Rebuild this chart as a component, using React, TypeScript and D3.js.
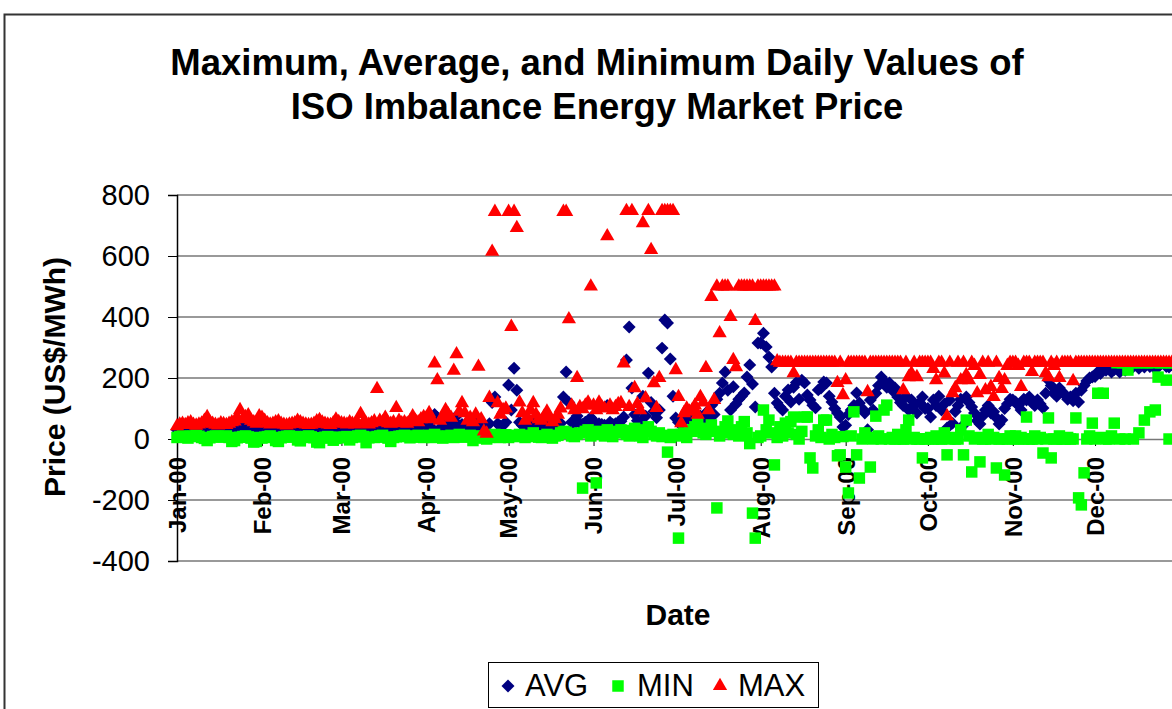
import React, { useEffect, useRef } from 'react';
import * as d3 from 'd3';

const startDate = new Date(2000, 0, 1);
const endDate = new Date(2001, 0, 1);
const yTicks = [-400, -200, 0, 200, 400, 600, 800];
const titleLines = ['Maximum, Average, and Minimum Daily Values of', 'ISO Imbalance Energy Market Price'];
const seriesNames = ['AVG', 'MIN', 'MAX'];

// daily values Jan 1 .. Dec 31 2000, one row per month (US$/MWh)
const avgValues = [
  30, 32, 33, 31, 34, 35, 30, 29, 31, 33, 36, 38, 34, 32, 30, 29, 33, 32, 30, 31, 34, 35, 38, 42, 36, 37, 38, 35, 33, 31, 36,
  35, 33, 31, 30, 31, 32, 34, 31, 30, 29, 30, 31, 32, 35, 33, 31, 30, 29, 29, 31, 34, 36, 33, 31, 30, 29, 32, 36, 33,
  32, 31, 30, 33, 31, 30, 32, 38, 33, 31, 30, 32, 34, 48, 35, 33, 36, 32, 31, 33, 40, 35, 33, 34, 32, 35, 38, 36, 34, 37, 38,
  34, 40, 36, 80, 70, 35, 38, 45, 40, 36, 60, 75, 42, 48, 40, 36, 38, 34, 40, 65, 38, 22, 15, 50, 120, 138, 50, 42, 45, 55,
  177, 95, 232, 160, 55, 45, 38, 40, 50, 58, 45, 40, 38, 42, 48, 40, 35, 38, 45, 52, 138, 220, 120, 55, 50, 75, 52, 48, 55, 60, 70,
  60, 45, 50, 48, 45, 110, 55, 48, 50, 55, 58, 72, 259, 367, 167, 80, 60, 55, 140, 75, 216, 120, 90, 70, 95, 298, 390, 380, 262, 140,
  69, 55, 45, 60, 72, 65, 58, 70, 62, 75, 68, 85, 60, 110, 80, 130, 150, 184, 220, 160, 95, 171, 115, 130, 140, 151, 203, 243, 180, 105, 315,
  315, 347, 302, 269, 236, 150, 118, 105, 95, 140, 161, 121, 170, 185, 130, 193, 184, 144, 128, 111, 102, 161, 167, 187, 184, 140, 121, 100, 85, 72, 39,
  45, 80, 95, 110, 151, 118, 100, 85, 30, 128, 95, 150, 175, 203, 190, 170, 184, 160, 167, 138, 120, 110, 140, 95, 128, 110, 85, 120, 138, 100,
  100, 72, 128, 110, 140, 95, 115, 36, 128, 52, 90, 110, 130, 46, 138, 120, 105, 85, 60, 49, 75, 95, 110, 85, 89, 70, 49, 62, 100, 115, 130,
  128, 121, 110, 95, 130, 128, 138, 120, 110, 128, 115, 102, 150, 193, 175, 150, 140, 167, 155, 145, 130, 138, 125, 150, 121, 160, 175, 190, 200, 203,
  205, 220, 215, 236, 225, 230, 220, 228, 250, 220, 250, 225, 230, 250, 238, 250, 232, 250, 236, 250, 238, 250, 230, 236, 250, 250, 238, 236, 250, 250, 250,
];

const minValues = [
  5, 8, 10, 6, 3, 8, 10, 12, 9, 5, 2, -5, 4, 8, 10, 9, 6, 8, 10, 5, -8, -5, 4, 6, 8, 10, 7, 3, -10, -8, 5,
  3, 6, 8, 10, 5, -5, -8, 4, 7, 9, 10, 6, 8, -3, -6, 5, 8, 10, 7, 4, -10, -12, 3, 6, 8, 5, -4, 2, 6,
  4, 6, 8, -3, 5, 7, 10, 12, 8, -12, 4, 6, 5, 8, 10, 12, 6, 3, -8, 5, 7, 9, 10, 12, 8, 4, 6, 10, 12, 8, 5,
  8, 12, 5, 15, 10, 6, 3, 8, 10, 12, 5, 10, 15, 8, 6, 10, 12, -5, 5, 8, 10, 3, 0, 5, 12, 15, 8, 5, 10, 14,
  5, 10, 8, 12, 15, 10, 5, 8, 12, 20, 10, 6, 5, 10, 15, 8, 3, 10, 12, 20, 25, 22, 18, 10, 8, 15, 20, -161, 25, 30, 10,
  20, -144, 25, 15, 10, 30, 12, 8, 20, 25, 30, 28, 15, 10, 22, 35, 18, 10, 5, 30, 40, 25, 15, 10, 20, 8, 12, -43, 5, 15,
  10, -325, 15, 20, 5, 30, 25, 40, 52, 35, 20, 15, 30, 46, 25, -226, 10, 20, 40, 59, 30, 15, 25, 10, 40, 57, 20, -15, -243, -325, 5,
  10, 95, 30, 62, 20, -85, 5, 40, 10, 52, 20, 57, 72, 15, 0, 25, 72, 72, -62, -95, 10, 30, 5, 62, 62, 0, 15, 5, -55, -52, 8,
  -92, -177, 10, 89, -52, -128, 0, 20, 5, -92, 0, 75, 10, 0, 95, 111, 0, 5, 0, 15, 0, 0, 30, 62, 0, 5, 0, 0, -62, 0,
  0, 5, 0, 10, 0, 0, 20, -52, 0, 5, 0, 0, 30, -52, 62, 10, -108, 0, 5, -75, 0, 0, 15, 0, 5, -95, 0, 0, -118, 0, 10,
  0, 10, 0, 5, 0, 72, 0, 0, 10, 0, 5, -46, 0, 69, -62, 0, 0, 10, 0, 0, 5, 0, 0, 69, -193, -216, -111, 0, 10, 52,
  0, 150, 5, 150, 0, 0, 10, 52, 250, 0, 250, 0, 226, 250, 0, 250, 20, 250, 62, 250, 89, 250, 95, 203, 250, 250, 193, 0, 250, 250, 250,
];

const maxValues = [
  42, 48, 50, 46, 52, 55, 47, 44, 48, 51, 60, 72, 55, 50, 47, 45, 52, 49, 46, 50, 55, 58, 70, 95, 65, 72, 78, 60, 55, 50, 75,
  70, 60, 52, 48, 50, 55, 58, 50, 47, 45, 48, 50, 52, 60, 55, 50, 48, 46, 47, 50, 58, 62, 54, 50, 48, 46, 52, 64, 56,
  52, 50, 48, 55, 50, 48, 52, 82, 55, 50, 48, 52, 58, 164, 60, 55, 70, 52, 50, 55, 102, 60, 52, 55, 50, 58, 75, 60, 55, 65, 72,
  70, 85, 65, 248, 193, 60, 75, 95, 80, 70, 224, 278, 90, 118, 85, 60, 70, 55, 80, 237, 65, 25, 18, 135, 614, 745, 118, 80, 95, 100,
  745, 368, 745, 692, 120, 85, 60, 70, 95, 118, 80, 65, 60, 75, 90, 70, 55, 65, 80, 100, 745, 745, 393, 110, 95, 200, 105, 98, 110, 120, 500,
  110, 95, 120, 105, 100, 665, 110, 95, 105, 115, 118, 248, 748, 105, 748, 167, 115, 95, 708, 134, 748, 620, 183, 102, 200, 748, 748, 748, 748, 748,
  226, 138, 52, 85, 100, 90, 95, 110, 80, 138, 120, 233, 95, 466, 128, 500, 347, 500, 500, 500, 400, 259, 236, 500, 500, 500, 500, 500, 500, 387, 500,
  500, 500, 500, 500, 500, 500, 255, 250, 250, 250, 250, 250, 216, 250, 250, 250, 250, 250, 250, 250, 250, 250, 250, 250, 250, 250, 250, 250, 184, 250, 144,
  193, 250, 250, 250, 250, 250, 250, 250, 154, 250, 250, 250, 250, 250, 250, 250, 250, 250, 250, 250, 250, 160, 250, 203, 216, 250, 203, 250, 250, 250,
  250, 250, 230, 193, 250, 250, 215, 75, 250, 150, 167, 250, 193, 250, 210, 193, 250, 240, 150, 210, 250, 160, 250, 171, 138, 250, 200, 164, 193, 240, 250,
  250, 250, 240, 171, 250, 250, 250, 220, 250, 250, 250, 250, 216, 203, 250, 240, 250, 200, 250, 250, 250, 250, 190, 250, 250, 250, 250, 250, 250, 250,
  250, 250, 250, 250, 250, 250, 250, 250, 250, 250, 250, 250, 250, 250, 250, 250, 250, 250, 250, 250, 250, 250, 250, 250, 250, 250, 250, 250, 250, 250, 250,
];

const colors = { AVG: '#000080', MIN: '#00ff00', MAX: '#ff0000' };

const App = () => {
  const svgRef = useRef(null);

  useEffect(() => {
    const svg = d3.select(svgRef.current);
    svg.selectAll('*').remove();
    const font = '"Liberation Sans", Arial, Helvetica, sans-serif';

    const x = d3.scaleTime().domain([startDate, endDate]).range([177, 1180]);
    const y = d3.scaleLinear().domain([-400, 800]).range([561, 195]);

    // chart frame
    svg.append('rect')
      .attr('x', 4.5).attr('y', 14.5)
      .attr('width', 1220).attr('height', 720)
      .attr('fill', '#fff')
      .attr('stroke', '#333')
      .attr('stroke-width', 2);

    // title
    svg.append('g').selectAll('text')
      .data(titleLines)
      .enter()
      .append('text')
      .attr('x', 597)
      .attr('y', (d, i) => 75 + i * 44)
      .attr('text-anchor', 'middle')
      .style('font-family', font)
      .style('font-size', '36.5px')
      .style('font-weight', 'bold')
      .text(d => d);

    // grid lines
    svg.append('g').selectAll('line')
      .data(yTicks.filter(t => t !== 0))
      .enter()
      .append('line')
      .attr('x1', 177).attr('x2', 1180)
      .attr('y1', d => y(d)).attr('y2', d => y(d))
      .attr('stroke', '#777')
      .attr('stroke-width', 1.5);

    // y axis
    const yAxis = svg.append('g')
      .attr('transform', 'translate(177,0)')
      .call(d3.axisLeft(y).tickValues(yTicks).tickFormat(d => String(d)).tickSize(9).tickPadding(18));
    yAxis.select('.domain').attr('stroke', '#000').attr('stroke-width', 1.5);
    yAxis.selectAll('.tick line').attr('stroke', '#000');
    yAxis.selectAll('text')
      .style('font-family', font)
      .style('font-size', '29px')
      .style('fill', '#000');

    // x axis at zero
    const months = d3.timeMonth.range(startDate, new Date(2000, 11, 2));
    const xAxis = svg.append('g')
      .attr('transform', `translate(0,${y(0)})`)
      .call(d3.axisBottom(x).tickValues(months).tickFormat(d3.timeFormat('%b-%y')).tickSize(7).tickSizeOuter(0));
    xAxis.select('.domain').attr('stroke', '#777').attr('stroke-width', 1.5);
    xAxis.selectAll('.tick line').attr('stroke', '#000');
    xAxis.selectAll('text')
      .attr('transform', 'rotate(-90)')
      .attr('x', -18)
      .attr('y', 0)
      .attr('dy', '0.35em')
      .style('text-anchor', 'end')
      .style('font-family', font)
      .style('font-size', '24px')
      .style('font-weight', 'bold')
      .style('fill', '#000');

    // axis titles
    svg.append('text')
      .attr('transform', 'translate(65,377) rotate(-90)')
      .attr('text-anchor', 'middle')
      .style('font-family', font)
      .style('font-size', '30px')
      .style('font-weight', 'bold')
      .text('Price (US$/MWh)');

    svg.append('text')
      .attr('x', 678).attr('y', 625)
      .attr('text-anchor', 'middle')
      .style('font-family', font)
      .style('font-size', '30px')
      .style('font-weight', 'bold')
      .text('Date');

    // markers
    const symbols = {
      AVG: d3.symbol().type(d3.symbolSquare).size(84)(),
      MIN: d3.symbol().type(d3.symbolSquare).size(132)(),
      MAX: d3.symbol().type(d3.symbolTriangle).size(88)(),
    };
    const rotation = { AVG: 45, MIN: 0, MAX: 0 };
    const seriesData = { AVG: avgValues, MIN: minValues, MAX: maxValues };

    const plot = svg.append('g');
    seriesNames.forEach(name => {
      plot.append('g').selectAll('path')
        .data(seriesData[name])
        .enter()
        .append('path')
        .attr('d', symbols[name])
        .attr('transform', (d, i) => `translate(${x(d3.timeDay.offset(startDate, i))},${y(d)}) rotate(${rotation[name]})`)
        .attr('fill', colors[name]);
    });

    // legend
    const legend = svg.append('g');
    legend.append('rect')
      .attr('x', 488.5).attr('y', 662.5)
      .attr('width', 330).attr('height', 45)
      .attr('fill', '#fff')
      .attr('stroke', '#000');

    const legendX = [508, 618, 720];
    const legendTextX = [525, 637, 738];
    seriesNames.forEach((name, i) => {
      legend.append('path')
        .attr('d', symbols[name])
        .attr('transform', `translate(${legendX[i]},686) rotate(${rotation[name]})`)
        .attr('fill', colors[name]);
      legend.append('text')
        .attr('x', legendTextX[i]).attr('y', 696)
        .style('font-family', font)
        .style('font-size', '31px')
        .text(name);
    });
  }, []);

  return (
    <svg
      ref={svgRef}
      width={1172}
      height={709}
      style={{ position: 'absolute', left: 0, top: 0, background: '#fff' }}
    />
  );
};

export default App;
